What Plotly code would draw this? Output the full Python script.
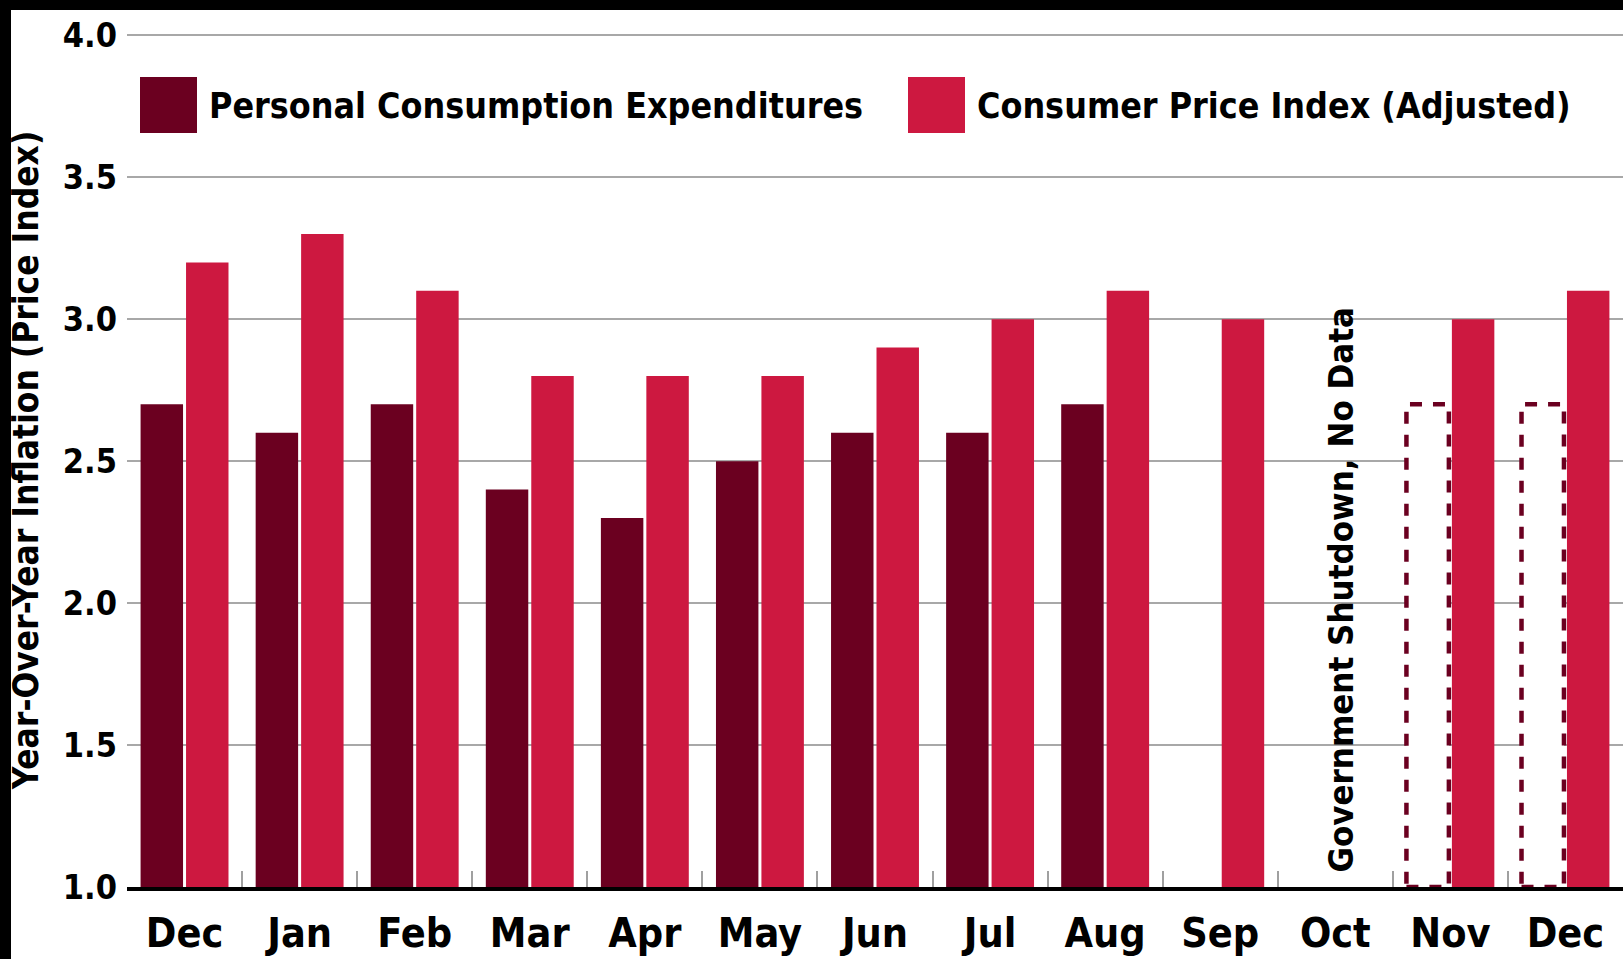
import plotly.graph_objects as go

# ---- data ----
months = ["Dec", "Jan", "Feb", "Mar", "Apr", "May", "Jun", "Jul", "Aug", "Sep", "Oct", "Nov", "Dec"]
pce = [2.7, 2.6, 2.7, 2.4, 2.3, 2.5, 2.6, 2.6, 2.7, None, None, None, None]
cpi = [3.2, 3.3, 3.1, 2.8, 2.8, 2.8, 2.9, 3.0, 3.1, 3.0, None, 3.0, 3.1]
pce_pending = [None, None, None, None, None, None, None, None, None, None, None, 2.7, 2.7]
y_ticks = [1.0, 1.5, 2.0, 2.5, 3.0, 3.5, 4.0]
pce_name = "Personal Consumption Expenditures"
cpi_name = "Consumer Price Index (Adjusted)"
y_title = "Year-Over-Year Inflation (Price Index)"
note_text = "Government Shutdown, No Data"
note_month = 10

# ---- styling ----
PCE_COLOR = "#6B0020"
CPI_COLOR = "#CD1840"
FONT = "'Liberation Sans Narrow', 'DejaVu Sans Condensed', 'Roboto Condensed', 'Arial Narrow', Roboto, sans-serif"
W, H = 1623, 959
Y_TOP = 4.008                      # tiny headroom so the 4.0 grid line is kept
ML, MR, MB = 127, 0, 72
MT = 35 - round((Y_TOP - 4.0) * 284)
BARGAP = 0.21
BARGROUPGAP = 0.066


def f(size):
    return dict(family=FONT, size=size, color="black", weight="bold")


keys = [f"{m}_{i}" for i, m in enumerate(months)]

fig = go.Figure()
fig.add_trace(go.Bar(x=keys, y=pce, name=pce_name, marker=dict(color=PCE_COLOR, line=dict(width=0)),
                     showlegend=False))
fig.add_trace(go.Bar(x=keys, y=cpi, name=cpi_name, marker=dict(color=CPI_COLOR, line=dict(width=0)),
                     showlegend=False))

# dashed outlines for pending PCE values (same slot as the PCE bars)
slot = (1 - BARGAP) / 2
bar_w = slot * (1 - BARGROUPGAP)
left_off = -slot + slot * BARGROUPGAP / 2
for i, v in enumerate(pce_pending):
    if v is None:
        continue
    fig.add_shape(type="rect", xref="x", yref="y",
                  x0=i + left_off, x1=i + left_off + bar_w, y0=y_ticks[0], y1=v,
                  line=dict(color=PCE_COLOR, width=4.5, dash="12px,11px"),
                  fillcolor="white", layer="above")

# note
fig.add_annotation(x=keys[note_month], y=y_ticks[0] + 0.045, text=note_text, textangle=-90,
                   xref="x", yref="y", xanchor="center", yanchor="bottom", xshift=6,
                   showarrow=False, font=f(34.5))

# manual legend
PW = W - ML - MR
PH = H - MT - MB


def px2x(px):
    return (px - ML) / PW


def py2y(py):
    return (H - MB - py) / PH


for (sx, col, name, tx) in [(140, PCE_COLOR, pce_name, 207), (908, CPI_COLOR, cpi_name, 975)]:
    fig.add_shape(type="rect", xref="paper", yref="paper",
                  x0=px2x(sx), x1=px2x(sx + 57), y0=py2y(133), y1=py2y(77),
                  fillcolor=col, line=dict(width=0), layer="above")
    fig.add_annotation(xref="paper", yref="paper", x=px2x(tx), y=py2y(106), text=name,
                       xanchor="left", yanchor="middle", showarrow=False, font=f(35.5))

# black photo frame on left and top
fig.add_shape(type="rect", xref="paper", yref="paper", x0=px2x(-5), x1=px2x(11),
              y0=py2y(H + 5), y1=py2y(-5), fillcolor="black", line=dict(width=0), layer="above")
fig.add_shape(type="rect", xref="paper", yref="paper", x0=px2x(-5), x1=px2x(W + 5),
              y0=py2y(10), y1=py2y(-5), fillcolor="black", line=dict(width=0), layer="above")

fig.update_layout(
    width=W, height=H,
    margin=dict(l=ML, r=MR, t=MT, b=MB, pad=0, autoexpand=False),
    paper_bgcolor="white", plot_bgcolor="white",
    barmode="group", bargap=BARGAP, bargroupgap=BARGROUPGAP,
    showlegend=False,
    font=dict(family=FONT, color="black"),
)
fig.update_xaxes(
    type="category", tickmode="array", tickvals=keys, ticktext=months, automargin=False,
    tickson="boundaries", ticks="inside", ticklen=16, tickwidth=2, tickcolor="#A0A0A0",
    showline=True, linecolor="black", linewidth=4, showgrid=False,
    tickfont=f(41), ticklabelstandoff=7,
    range=[-0.5, len(keys) - 0.5],
)
fig.update_yaxes(
    range=[y_ticks[0], Y_TOP], tickmode="array", tickvals=y_ticks, automargin=False,
    ticktext=[f"{t:.1f}" for t in y_ticks],
    showgrid=True, gridcolor="#A8A8A8", gridwidth=2, zeroline=False, showline=False,
    ticks="", ticklabelstandoff=9,
    tickfont=f(34),
    title=dict(text=y_title, font=f(35), standoff=13),
)

fig.write_html("out.html", config={"displayModeBar": False},
               post_script="document.body.style.margin='0';document.body.style.padding='0';")
